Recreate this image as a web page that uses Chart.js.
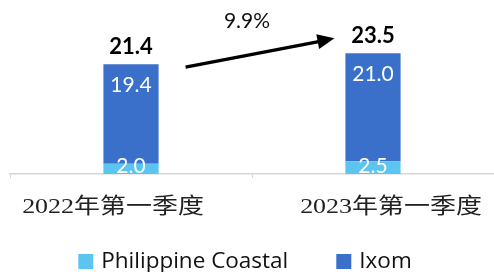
<!DOCTYPE html>
<html>
<head>
<meta charset="utf-8">
<script src="https://cdn.jsdelivr.net/npm/chart.js@4.4.0/dist/chart.umd.min.js"></script>
<style>
  html, body { margin: 0; padding: 0; background: #fff; }
  #wrap { width: 494px; height: 272px; }
</style>
</head>
<body>
<div id="wrap"><canvas id="myChart"></canvas></div>
<script>
// data
const quarters = ['2022年第一季度', '2023年第一季度'];
const seriesNames = ['Philippine Coastal', 'Ixom'];
const coastal = [2.0, 2.5];
const ixom = [19.4, 21.0];
const totals = [21.4, 23.5];
const growthLabel = '9.9%';

const colors = ['#5BC5EF', '#3B70CA'];
const sans = "Lato, 'Open Sans', sans-serif";
const legendFont = "'Open Sans', sans-serif";
const serif = "'Liberation Serif', 'Noto Sans CJK SC', serif";

// labels, arrow, category names and legend drawn on top of the bars
const drawExtras = {
    id: 'drawExtras',
    afterDraw(chart) {
        const ctx = chart.ctx;
        const low = chart.getDatasetMeta(0).data;
        const high = chart.getDatasetMeta(1).data;
        const area = chart.chartArea;

        ctx.save();
        ctx.textAlign = 'center';
        ctx.textBaseline = 'alphabetic';

        // values inside the bars
        ctx.fillStyle = '#fff';
        ctx.font = '21px ' + sans;
        low.forEach((bar, i) => {
            ctx.fillText(coastal[i].toFixed(1), bar.x, bar.base - 1.5);
        });
        high.forEach((bar, i) => {
            ctx.fillText(ixom[i].toFixed(1), bar.x, bar.y + 27.5);
        });

        // totals above
        ctx.fillStyle = '#000';
        ctx.font = 'bold 22px ' + sans;
        high.forEach((bar, i) => {
            ctx.fillText(totals[i].toFixed(1), bar.x, bar.y - 10);
        });

        // growth arrow
        const b0 = high[0], b1 = high[1];
        const x0 = b0.x + b0.width / 2 + 27, y0 = b0.y + 3;
        const x1 = b1.x - b1.width / 2 - 11, y1 = b1.y - 15;
        const ang = Math.atan2(y1 - y0, x1 - x0);
        const headLen = 17, headW = 7.5;
        const bx = x1 - headLen * Math.cos(ang), by = y1 - headLen * Math.sin(ang);
        ctx.strokeStyle = '#000';
        ctx.lineWidth = 3.5;
        ctx.beginPath();
        ctx.moveTo(x0, y0);
        ctx.lineTo(bx + 1, by);
        ctx.stroke();
        ctx.beginPath();
        ctx.moveTo(x1, y1);
        ctx.lineTo(bx + headW * Math.sin(ang), by - headW * Math.cos(ang));
        ctx.lineTo(bx - headW * Math.sin(ang), by + headW * Math.cos(ang));
        ctx.closePath();
        ctx.fill();

        ctx.font = '21px ' + sans;
        ctx.fillStyle = '#111';
        ctx.fillText(growthLabel, (x0 + x1) / 2 - 13, (y0 + y1) / 2 - 25);

        // category names, wide serif and shifted outward like the original
        ctx.font = '22px ' + serif;
        ctx.fillStyle = '#222';
        const shift = [-18, 18];
        high.forEach((bar, i) => {
            ctx.save();
            ctx.translate(bar.x + shift[i], area.bottom + 38.5);
            ctx.scale(1.18, 1);
            ctx.fillText(quarters[i], 0, 0);
            ctx.restore();
        });

        // legend
        ctx.font = '22.5px ' + legendFont;
        ctx.textAlign = 'left';
        const box = 15, gap = 8, itemGap = 48;
        const widths = seriesNames.map(s => ctx.measureText(s).width);
        const total = widths.reduce((a, w) => a + w + box + gap, 0) + itemGap;
        let x = chart.width / 2 - 2 - total / 2;
        seriesNames.forEach((name, i) => {
            ctx.fillStyle = colors[i];
            ctx.fillRect(x, 254, box, box);
            ctx.fillStyle = '#111';
            ctx.fillText(name, x + box + gap, 267.5);
            x += box + gap + widths[i] + itemGap;
        });
        ctx.restore();
    }
};

const config = {
    type: 'bar',
    data: {
        labels: quarters,
        datasets: [{
                label: seriesNames[0],
                data: coastal,
                backgroundColor: colors[0],
            },
            {
                label: seriesNames[1],
                data: ixom,
                backgroundColor: colors[1],
            }
        ]
    },
    options: {
        responsive: true,
        maintainAspectRatio: false,
        animation: false,
        layout: {
            padding: { top: 20, left: 10, right: 0, bottom: 94 }
        },
        datasets: {
            bar: { categoryPercentage: 1, barPercentage: 0.228 }
        },
        plugins: {
            legend: { display: false },
            tooltip: { enabled: false }
        },
        scales: {
            x: {
                stacked: true,
                ticks: { display: false },
                grid: { drawOnChartArea: false, tickLength: 4, color: '#d6d6d6' },
                border: { color: '#d6d6d6', width: 1.5 }
            },
            y: {
                stacked: true,
                display: false,
                min: 0,
                max: 30
            }
        }
    },
    plugins: [drawExtras]
};

let myChart = new Chart(
    document.getElementById('myChart'),
    config
);
</script>
</body>
</html>
